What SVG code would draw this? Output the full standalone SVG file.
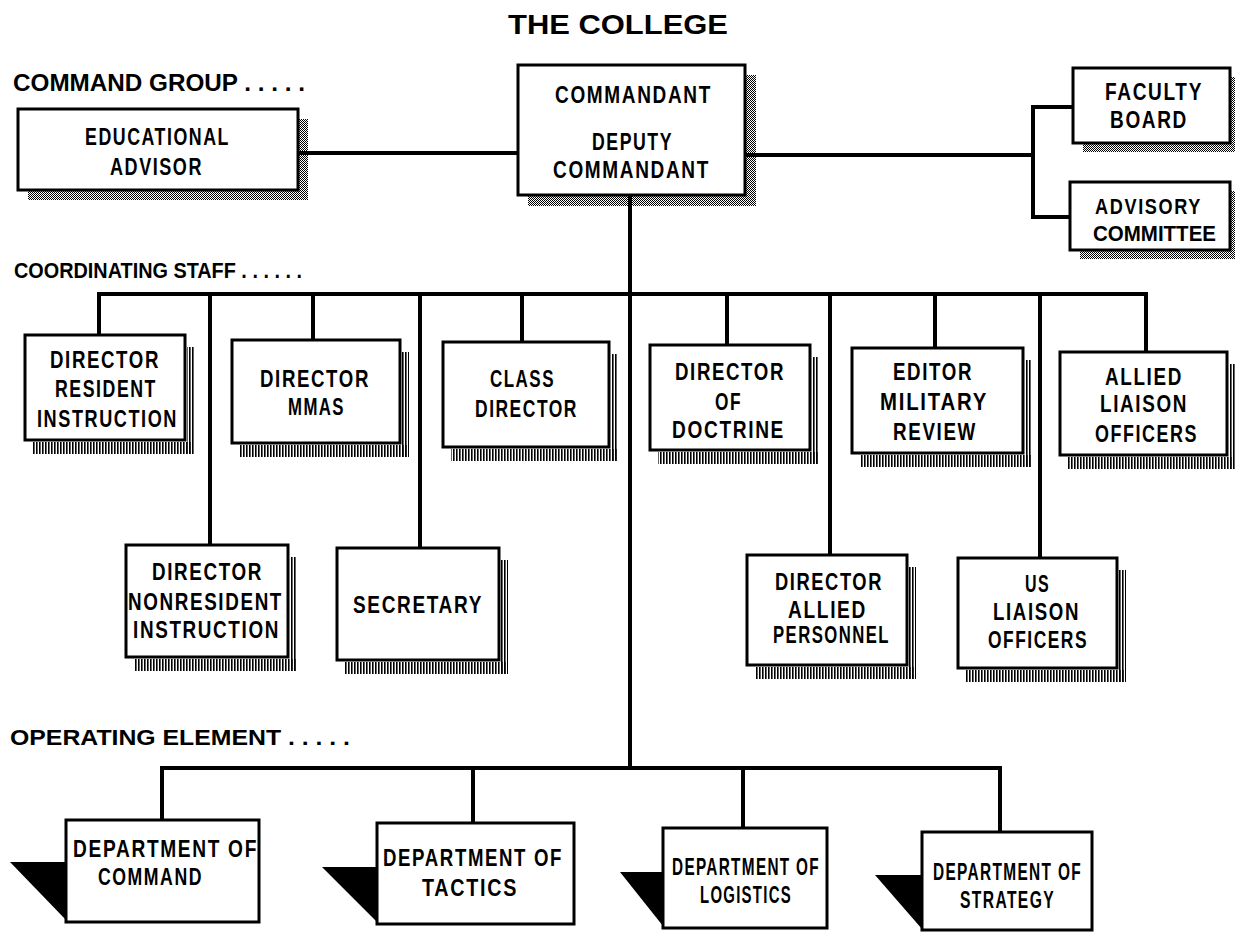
<svg xmlns="http://www.w3.org/2000/svg" width="1235" height="934" viewBox="0 0 1235 934">
<defs>
<pattern id="dots" width="2" height="2" patternUnits="userSpaceOnUse"><rect x="0" y="0" width="1" height="1" fill="#000"/><rect x="1" y="1" width="1" height="1" fill="#000"/></pattern>
<pattern id="comb" width="3" height="4" patternUnits="userSpaceOnUse"><rect x="0" y="0" width="1.6" height="4" fill="#000"/></pattern>
</defs>
<style>
text{font-family:"Liberation Sans",Arial,sans-serif;font-weight:bold;fill:#000}
.n{font-size:23px;letter-spacing:2px}
.lbl{font-size:23px}
.box{fill:#fff;stroke:#000;stroke-width:3}
.dsh{fill:url(#dots)}
.csh{fill:url(#comb)}
.tri{fill:#000}
.c{fill:none;stroke:#000;stroke-width:4;stroke-linecap:square}
</style>
<rect width="1235" height="934" fill="#fff"/>
<text x="508" y="34" style="font-size:28px" textLength="220" lengthAdjust="spacingAndGlyphs">THE COLLEGE</text>
<text class="lbl" x="13" y="91" textLength="292" lengthAdjust="spacingAndGlyphs">COMMAND GROUP . . . . .</text>
<text class="lbl" x="14" y="278" style="font-size:22px" textLength="288" lengthAdjust="spacingAndGlyphs">COORDINATING STAFF . . . . . .</text>
<text class="lbl" x="10" y="745" style="font-size:22px" textLength="340" lengthAdjust="spacingAndGlyphs">OPERATING ELEMENT . . . . .</text>

<g id="connectors">
<line class="c" x1="298" y1="153" x2="518" y2="153"/>
<line class="c" x1="745" y1="155" x2="1033" y2="155"/>
<polyline class="c" points="1073,107 1033,107 1033,217 1070,217"/>
<line class="c" x1="630" y1="195" x2="630" y2="768"/>
<line class="c" x1="99" y1="294" x2="1146" y2="294"/>
<line class="c" x1="99" y1="294" x2="99" y2="335"/>
<line class="c" x1="210" y1="294" x2="210" y2="545"/>
<line class="c" x1="313" y1="294" x2="313" y2="340"/>
<line class="c" x1="420" y1="294" x2="420" y2="548"/>
<line class="c" x1="522" y1="294" x2="522" y2="342"/>
<line class="c" x1="727" y1="294" x2="727" y2="345"/>
<line class="c" x1="830" y1="294" x2="830" y2="555"/>
<line class="c" x1="935" y1="294" x2="935" y2="348"/>
<line class="c" x1="1040" y1="294" x2="1040" y2="558"/>
<line class="c" x1="1146" y1="294" x2="1146" y2="352"/>
<line class="c" x1="162" y1="768" x2="1000" y2="768"/>
<line class="c" x1="162" y1="768" x2="162" y2="820"/>
<line class="c" x1="473" y1="768" x2="473" y2="823"/>
<line class="c" x1="743" y1="768" x2="743" y2="828"/>
<line class="c" x1="1000" y1="768" x2="1000" y2="832"/>
</g>

<g id="educational-advisor">
<rect class="dsh" x="28" y="119" width="280" height="81"/>
<rect class="box" x="18" y="109" width="280" height="81"/>
<text class="n" x="85" y="145" textLength="145" lengthAdjust="spacingAndGlyphs">EDUCATIONAL</text>
<text class="n" x="110" y="175" textLength="93" lengthAdjust="spacingAndGlyphs">ADVISOR</text>
</g>
<g id="commandant">
<rect class="dsh" x="528" y="75" width="228" height="131"/>
<rect class="box" x="518" y="65" width="227" height="130"/>
<text class="n" x="555" y="103" textLength="157" lengthAdjust="spacingAndGlyphs">COMMANDANT</text>
<text class="n" x="592" y="150" textLength="81" lengthAdjust="spacingAndGlyphs">DEPUTY</text>
<text class="n" x="553" y="178" textLength="157" lengthAdjust="spacingAndGlyphs">COMMANDANT</text>
</g>
<g id="faculty-board">
<rect class="dsh" x="1083" y="77" width="152" height="75"/>
<rect class="box" x="1073" y="68" width="157" height="75"/>
<text class="n" x="1105" y="100" textLength="98" lengthAdjust="spacingAndGlyphs">FACULTY</text>
<text class="n" x="1110" y="128" textLength="78" lengthAdjust="spacingAndGlyphs">BOARD</text>
</g>
<g id="advisory-committee">
<rect class="dsh" x="1080" y="191" width="155" height="68"/>
<rect class="box" x="1070" y="182" width="160" height="68"/>
<text class="n" x="1095" y="214" style="font-size:22px" textLength="107" lengthAdjust="spacingAndGlyphs">ADVISORY</text>
<text class="n" x="1093" y="241" style="font-size:22px;letter-spacing:0" textLength="123" lengthAdjust="spacingAndGlyphs">COMMITTEE</text>
</g>

<g id="director-resident-instruction">
<rect class="csh" x="33" y="442" width="160" height="12"/>
<rect class="csh" x="187" y="347" width="7" height="107"/>
<rect class="box" x="25" y="335" width="160" height="105"/>
<text class="n" x="50" y="368" textLength="110" lengthAdjust="spacingAndGlyphs">DIRECTOR</text>
<text class="n" x="55" y="397" textLength="102" lengthAdjust="spacingAndGlyphs">RESIDENT</text>
<text class="n" x="37" y="427" textLength="141" lengthAdjust="spacingAndGlyphs">INSTRUCTION</text>
</g>
<g id="director-mmas">
<rect class="csh" x="240" y="445" width="168" height="12"/>
<rect class="csh" x="402" y="352" width="7" height="105"/>
<rect class="box" x="232" y="340" width="168" height="103"/>
<text class="n" x="260" y="387" textLength="110" lengthAdjust="spacingAndGlyphs">DIRECTOR</text>
<text class="n" x="288" y="415" textLength="57" lengthAdjust="spacingAndGlyphs">MMAS</text>
</g>
<g id="class-director">
<rect class="csh" x="451" y="449" width="166" height="12"/>
<rect class="csh" x="611" y="354" width="7" height="107"/>
<rect class="box" x="443" y="342" width="166" height="105"/>
<text class="n" x="490" y="387" textLength="65" lengthAdjust="spacingAndGlyphs">CLASS</text>
<text class="n" x="475" y="417" textLength="103" lengthAdjust="spacingAndGlyphs">DIRECTOR</text>
</g>
<g id="director-of-doctrine">
<rect class="csh" x="658" y="452" width="160" height="12"/>
<rect class="csh" x="812" y="357" width="7" height="107"/>
<rect class="box" x="650" y="345" width="160" height="105"/>
<text class="n" x="675" y="380" textLength="110" lengthAdjust="spacingAndGlyphs">DIRECTOR</text>
<text class="n" x="715" y="410" textLength="27" lengthAdjust="spacingAndGlyphs">OF</text>
<text class="n" x="672" y="438" textLength="113" lengthAdjust="spacingAndGlyphs">DOCTRINE</text>
</g>
<g id="editor-military-review">
<rect class="csh" x="860" y="455" width="171" height="12"/>
<rect class="csh" x="1025" y="360" width="7" height="107"/>
<rect class="box" x="852" y="348" width="171" height="105"/>
<text class="n" x="893" y="380" textLength="80" lengthAdjust="spacingAndGlyphs">EDITOR</text>
<text class="n" x="880" y="410" textLength="108" lengthAdjust="spacingAndGlyphs">MILITARY</text>
<text class="n" x="893" y="440" textLength="84" lengthAdjust="spacingAndGlyphs">REVIEW</text>
</g>
<g id="allied-liaison-officers">
<rect class="csh" x="1068" y="457" width="164" height="12"/>
<rect class="csh" x="1229" y="364" width="6" height="105"/>
<rect class="box" x="1060" y="352" width="167" height="103"/>
<text class="n" x="1105" y="385" textLength="78" lengthAdjust="spacingAndGlyphs">ALLIED</text>
<text class="n" x="1100" y="412" textLength="88" lengthAdjust="spacingAndGlyphs">LIAISON</text>
<text class="n" x="1095" y="442" textLength="103" lengthAdjust="spacingAndGlyphs">OFFICERS</text>
</g>

<g id="director-nonresident-instruction">
<rect class="csh" x="134" y="659" width="162" height="12"/>
<rect class="csh" x="290" y="557" width="7" height="114"/>
<rect class="box" x="126" y="545" width="162" height="112"/>
<text class="n" x="152" y="580" textLength="111" lengthAdjust="spacingAndGlyphs">DIRECTOR</text>
<text class="n" x="128" y="610" textLength="155" lengthAdjust="spacingAndGlyphs">NONRESIDENT</text>
<text class="n" x="133" y="638" textLength="147" lengthAdjust="spacingAndGlyphs">INSTRUCTION</text>
</g>
<g id="secretary">
<rect class="csh" x="345" y="662" width="162" height="12"/>
<rect class="csh" x="501" y="560" width="7" height="114"/>
<rect class="box" x="337" y="548" width="162" height="112"/>
<text class="n" x="353" y="613" textLength="130" lengthAdjust="spacingAndGlyphs">SECRETARY</text>
</g>
<g id="director-allied-personnel">
<rect class="csh" x="755" y="667" width="160" height="12"/>
<rect class="csh" x="909" y="567" width="7" height="112"/>
<rect class="box" x="747" y="555" width="160" height="110"/>
<text class="n" x="775" y="590" textLength="108" lengthAdjust="spacingAndGlyphs">DIRECTOR</text>
<text class="n" x="788" y="618" textLength="79" lengthAdjust="spacingAndGlyphs">ALLIED</text>
<text class="n" x="773" y="643" textLength="117" lengthAdjust="spacingAndGlyphs">PERSONNEL</text>
</g>
<g id="us-liaison-officers">
<rect class="csh" x="966" y="670" width="159" height="12"/>
<rect class="csh" x="1119" y="570" width="7" height="112"/>
<rect class="box" x="958" y="558" width="159" height="110"/>
<text class="n" x="1025" y="592" textLength="25" lengthAdjust="spacingAndGlyphs">US</text>
<text class="n" x="993" y="620" textLength="87" lengthAdjust="spacingAndGlyphs">LIAISON</text>
<text class="n" x="988" y="648" textLength="100" lengthAdjust="spacingAndGlyphs">OFFICERS</text>
</g>

<g id="department-of-command">
<polygon class="tri" points="10,862 66,862 66,920"/>
<rect class="box" x="66" y="820" width="193" height="102"/>
<text class="n" x="73" y="857" textLength="185" lengthAdjust="spacingAndGlyphs">DEPARTMENT OF</text>
<text class="n" x="98" y="885" textLength="105" lengthAdjust="spacingAndGlyphs">COMMAND</text>
</g>
<g id="department-of-tactics">
<polygon class="tri" points="322,867 377,867 377,922"/>
<rect class="box" x="377" y="823" width="197" height="101"/>
<text class="n" x="383" y="866" textLength="180" lengthAdjust="spacingAndGlyphs">DEPARTMENT OF</text>
<text class="n" x="422" y="896" textLength="96" lengthAdjust="spacingAndGlyphs">TACTICS</text>
</g>
<g id="department-of-logistics">
<polygon class="tri" points="620,872 663,872 663,926"/>
<rect class="box" x="663" y="828" width="164" height="100"/>
<text class="n" x="672" y="875" textLength="148" lengthAdjust="spacingAndGlyphs">DEPARTMENT OF</text>
<text class="n" x="700" y="903" textLength="92" lengthAdjust="spacingAndGlyphs">LOGISTICS</text>
</g>
<g id="department-of-strategy">
<polygon class="tri" points="875,875 922,875 922,929"/>
<rect class="box" x="922" y="832" width="170" height="98"/>
<text class="n" x="933" y="880" textLength="149" lengthAdjust="spacingAndGlyphs">DEPARTMENT OF</text>
<text class="n" x="960" y="908" textLength="95" lengthAdjust="spacingAndGlyphs">STRATEGY</text>
</g>
</svg>
